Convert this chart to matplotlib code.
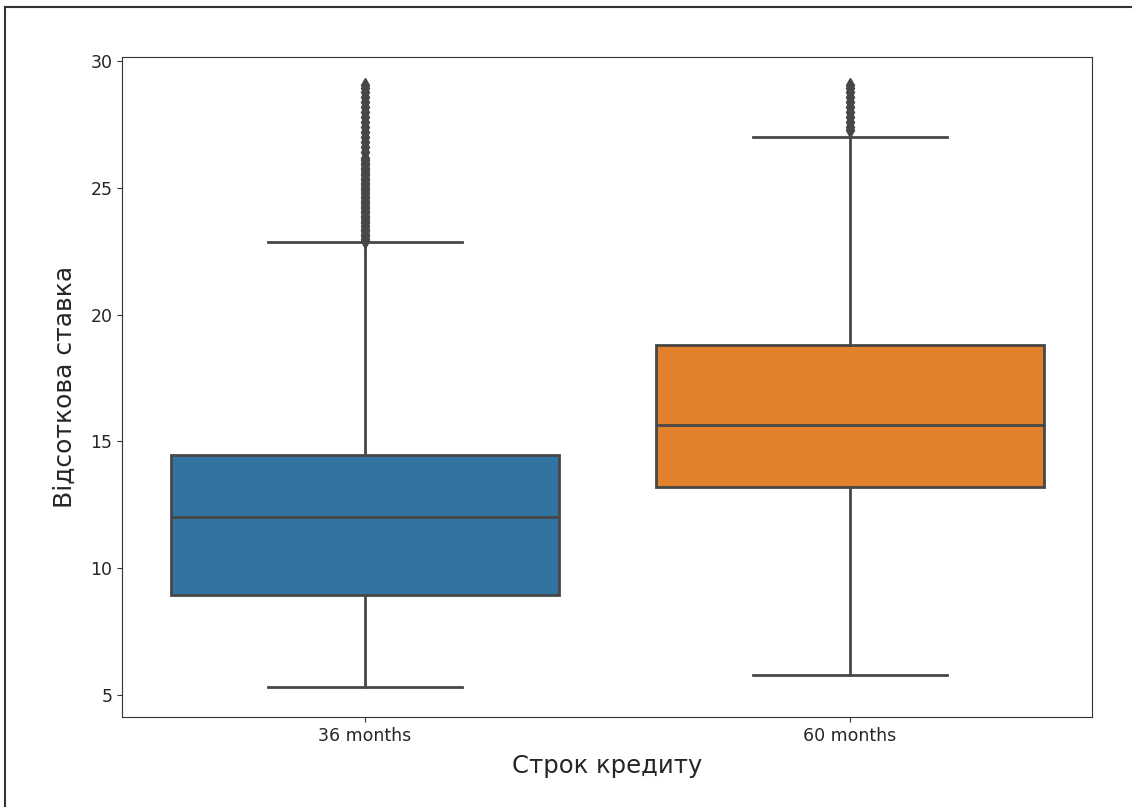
import matplotlib
matplotlib.use("Agg")
import matplotlib.pyplot as plt
from matplotlib.lines import Line2D

# Categories and box statistics
terms = ["36 months", "60 months"]
q1 = [8.94, 13.2]
medians = [12.02, 15.65]
q3 = [14.46, 18.8]
whislo = [5.32, 5.79]
whishi = [22.86, 27.0]

fliers_36 = [22.9, 23.0, 23.1, 23.2, 23.3, 23.4, 23.5, 23.6, 23.7, 23.8, 23.9,
             24.0, 24.1, 24.2, 24.3, 24.4, 24.5, 24.6, 24.7, 24.8, 24.9, 25.0,
             25.1, 25.2, 25.3, 25.4, 25.5, 25.6, 25.7, 25.8, 25.9, 26.0, 26.1,
             26.2, 26.4, 26.6, 26.8, 27.0, 27.2, 27.4, 27.6, 27.8, 28.0, 28.2,
             28.4, 28.6, 28.8, 28.95, 29.05]
fliers_60 = [27.3, 27.4, 27.6, 27.8, 28.0, 28.2, 28.4, 28.6, 28.8, 28.95, 29.05]

colors = ["#3274a1", "#e1812c"]
gray = "#474747"

stats = []
for i, name in enumerate(terms):
    stats.append({
        "label": name,
        "q1": q1[i], "med": medians[i], "q3": q3[i],
        "whislo": whislo[i], "whishi": whishi[i],
        "fliers": [fliers_36, fliers_60][i],
    })

fig = plt.figure(figsize=(11.32, 8.07), dpi=100)
ax = fig.add_axes([0.1078, 0.1115, 0.857, 0.818])

bp = ax.bxp(stats, positions=[0, 1], widths=0.8, patch_artist=True,
            boxprops=dict(edgecolor=gray, linewidth=2),
            medianprops=dict(color=gray, linewidth=2),
            whiskerprops=dict(color=gray, linewidth=2),
            capprops=dict(color=gray, linewidth=2),
            capwidths=0.4,
            flierprops=dict(marker="d", markerfacecolor=gray, markeredgecolor=gray,
                            markersize=7))
for patch, c in zip(bp["boxes"], colors):
    patch.set_facecolor(c)

ax.set_xlim(-0.5, 1.5)
ax.set_ylim(4.13, 30.17)
ax.set_yticks([5, 10, 15, 20, 25, 30])
ax.set_xticks([0, 1])
ax.set_xticklabels(terms)
ax.tick_params(labelsize=12.5, colors="#333333", labelcolor="#262626")
for s in ax.spines.values():
    s.set_color("#333333")

ax.set_xlabel("Строк кредиту", fontsize=17.5, color="#262626")
ax.set_ylabel("Відсоткова ставка", fontsize=18, color="#262626")
ax.xaxis.set_label_coords(0.5, -0.056)
ax.yaxis.set_label_coords(-0.046, 0.5)

# frame lines at left and top edge of the image
fig.add_artist(Line2D([0.0045, 0.0045], [0, 0.991], transform=fig.transFigure, color="#333333", lw=1.5))
fig.add_artist(Line2D([0.0045, 1], [0.991, 0.991], transform=fig.transFigure, color="#333333", lw=1.5))

fig.savefig("out.png", dpi=100)
